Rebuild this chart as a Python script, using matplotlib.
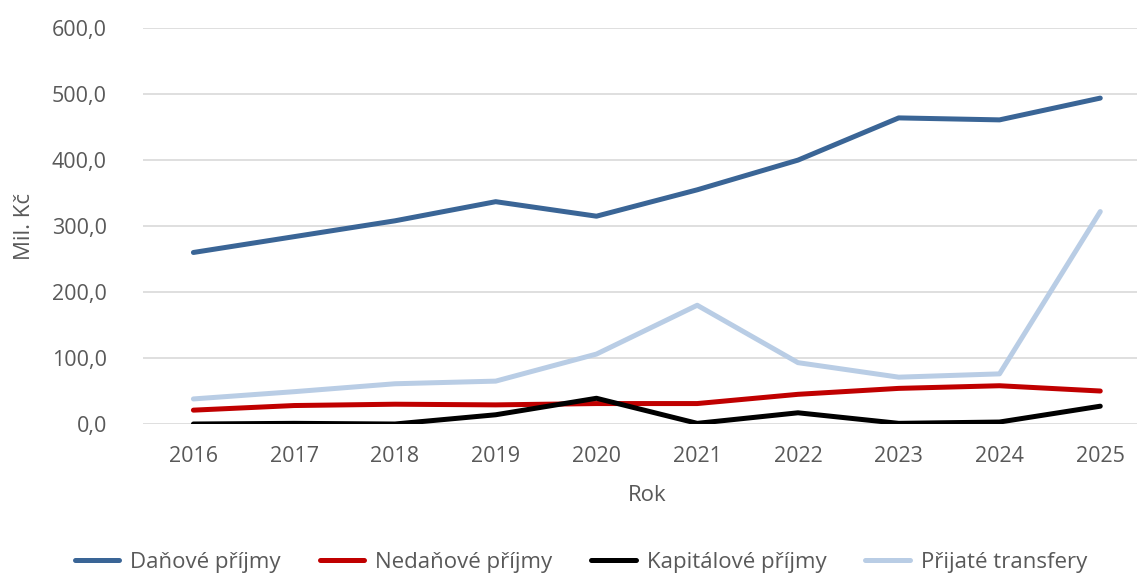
import matplotlib
matplotlib.use('Agg')
from matplotlib import pyplot as plt
from matplotlib.ticker import FuncFormatter

plt.rcParams['font.family'] = ['Open Sans', 'DejaVu Sans']

roky = ['2016', '2017', '2018', '2019', '2020', '2021', '2022', '2023', '2024', '2025']
danove = [260, 284, 308, 337, 315, 355, 400, 464, 461, 494]
nedanove = [21, 28, 30, 29, 31, 31, 45, 54, 58, 50]
kapitalove = [0, 1, 0, 14, 39, 1, 17, 1, 3, 27]
transfery = [38, 49, 61, 65, 106, 180, 93, 71, 76, 322]

serie = [
    ('Daňové příjmy', danove, '#3A6596'),
    ('Nedaňové příjmy', nedanove, '#C00000'),
    ('Kapitálové příjmy', kapitalove, '#000000'),
    ('Přijaté transfery', transfery, '#B9CDE5'),
]

seda = '#595959'

fig = plt.figure(figsize=(11.37, 5.75), dpi=100)
ax = fig.add_axes([0.1258, 0.2626, 0.8862, 0.6884])

x = list(range(len(roky)))
for nazev, hodnoty, barva in serie:
    ax.plot(x, hodnoty, color=barva, linewidth=3.6, label=nazev,
            solid_capstyle='round', solid_joinstyle='round')

ax.set_xlim(-0.5, len(roky) - 0.5)
ax.set_ylim(0, 600)
ax.set_yticks(range(0, 601, 100))
ax.yaxis.set_major_formatter(FuncFormatter(lambda v, p: f'{v:.1f}'.replace('.', ',')))
ax.set_xticks(x)
ax.set_xticklabels(roky)
ax.grid(axis='y', color='#D9D9D9', linewidth=1.2)
ax.set_axisbelow(True)
for s in ax.spines.values():
    s.set_visible(False)
ax.tick_params(length=0, labelsize=15.5, colors=seda)
ax.tick_params(axis='x', pad=15.5)
ax.tick_params(axis='y', pad=26)

ax.set_xlabel('Rok', fontsize=16, color=seda, labelpad=13.5)
ax.set_ylabel('Mil. Kč', fontsize=16, color=seda, labelpad=12)

fig.legend(loc='center', bbox_to_anchor=(0.511, 0.022), ncol=4, frameon=False,
           fontsize=16, handlelength=2.0, handletextpad=0.5, columnspacing=1.75,
           labelcolor=seda, borderpad=0.1)

fig.savefig('out.png', dpi=100)
